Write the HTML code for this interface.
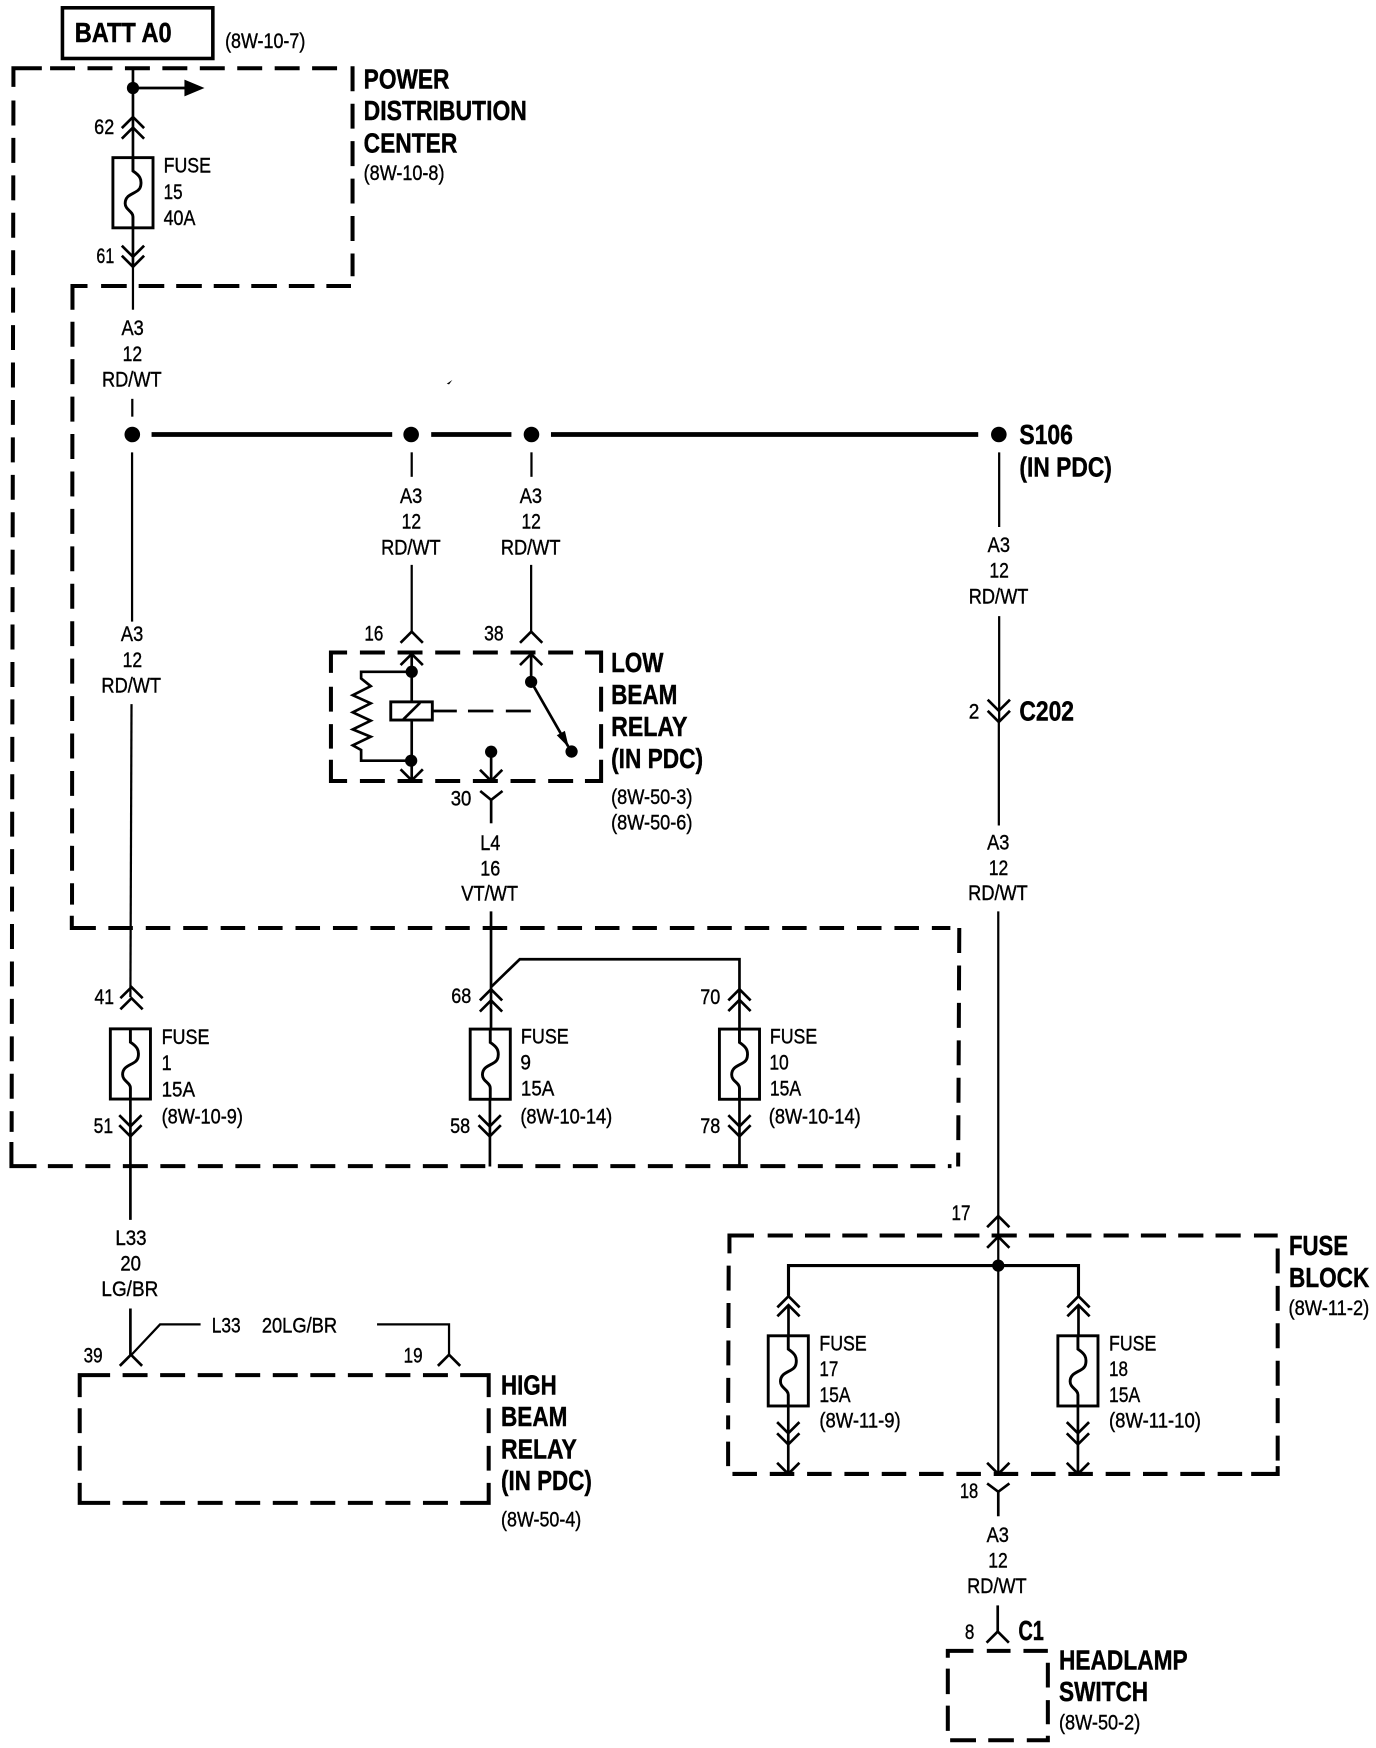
<!DOCTYPE html>
<html>
<head>
<meta charset="utf-8">
<style>
html,body{margin:0;padding:0;background:#fff;}
svg{display:block;}
text{font-family:"Liberation Sans",Arial,sans-serif;fill:#000;}
.r{font-size:19px;stroke:#000;stroke-width:.35px;}
.b{font-size:25px;font-weight:700;stroke:#000;stroke-width:.4px;}
.w{fill:none;stroke:#000;stroke-width:2;}
.t{fill:none;stroke:#000;stroke-width:2.4;}
.bus{fill:none;stroke:#000;stroke-width:4.2;}
.c{fill:none;stroke:#000;stroke-width:3.6;}
.d{fill:none;stroke:#000;stroke-width:3.6;stroke-dasharray:22.4 11.2;}
</style>
</head>
<body>
<svg xmlns="http://www.w3.org/2000/svg" width="1376" height="1748" viewBox="0 0 1235 1569">
<defs>
<path id="u" d="M-10 10L0 0L10 10" fill="none" stroke="#000" stroke-width="2.4"/>
<path id="v" d="M-10 -10L0 0L10 -10" fill="none" stroke="#000" stroke-width="2.4"/>
<g id="f">
<rect x="-18" y="0" width="36" height="63" fill="#fff" stroke="#000" stroke-width="2.6"/>
<path d="M0 0V12C6 16,8 19,7 25C6 33,-7 31,-7 41C-7 47,0 48,0 53V63" fill="none" stroke="#000" stroke-width="2.6"/>
</g>
</defs>

<!-- BATT box -->
<rect x="56" y="7" width="135" height="45.5" fill="none" stroke="#000" stroke-width="3.2"/>
<text class="b" x="67" y="37.5" textLength="87" lengthAdjust="spacingAndGlyphs">BATT A0</text>
<text class="r" x="202" y="43" textLength="72" lengthAdjust="spacingAndGlyphs">(8W-10-7)</text>

<!-- PDC dashed outline -->
<path class="c" d="M12 78V61.3H37.5"/>
<line class="d" x1="44.9" y1="61.3" x2="303" y2="61.3"/>
<line class="d" x1="316.4" y1="59.5" x2="316.4" y2="248"/>
<line class="d" x1="90.7" y1="256.7" x2="315" y2="256.7" style="stroke-dasharray:23 10.7"/>
<path class="c" d="M65 278V256.7H78.5"/>
<line class="d" x1="65" y1="288.8" x2="64.6" y2="812"/>
<path class="c" d="M64.4 822V833H86"/>
<line class="d" x1="97.2" y1="833" x2="853" y2="833" style="stroke-dasharray:22 11.6"/>
<line class="d" x1="861" y1="833" x2="860" y2="1047"/>
<line class="d" x1="42.9" y1="1046.7" x2="854" y2="1046.7" style="stroke-dasharray:22.4 11.26"/>
<path class="c" d="M32.7 1046.7H10.2V1025"/>
<line class="d" x1="12" y1="90.2" x2="10.4" y2="1016"/>

<!-- Top wire -->
<path class="t" d="M119.3 61V205"/>
<path class="t" d="M119.3 205V240"/>
<path class="w" d="M119.3 240V278"/>
<circle cx="119.3" cy="79" r="5.5"/>
<path class="t" d="M119 79H167"/>
<path d="M165.5 71.5L183.5 79L165.5 86.5Z"/>
<use href="#u" x="119.3" y="105"/>
<use href="#u" x="119.3" y="114.5"/>
<use href="#f" x="119.3" y="141.5"/>
<use href="#v" x="119.3" y="230.5"/>
<use href="#v" x="119.3" y="239.5"/>
<text class="r" x="84.5" y="120.5" textLength="18" lengthAdjust="spacingAndGlyphs">62</text>
<text class="r" x="86.5" y="236" textLength="16" lengthAdjust="spacingAndGlyphs">61</text>
<text class="r" x="146.8" y="155" textLength="42.5" lengthAdjust="spacingAndGlyphs">FUSE</text>
<text class="r" x="146.8" y="178.5" textLength="17" lengthAdjust="spacingAndGlyphs">15</text>
<text class="r" x="146.8" y="202" textLength="28.5" lengthAdjust="spacingAndGlyphs">40A</text>

<text class="b" x="326.4" y="79.3" textLength="77" lengthAdjust="spacingAndGlyphs">POWER</text>
<text class="b" x="326.4" y="107.7" textLength="146.5" lengthAdjust="spacingAndGlyphs">DISTRIBUTION</text>
<text class="b" x="326.4" y="137" textLength="84" lengthAdjust="spacingAndGlyphs">CENTER</text>
<text class="r" x="326.4" y="161.5" textLength="72.5" lengthAdjust="spacingAndGlyphs">(8W-10-8)</text>

<!-- A3 labels -->
<g class="wl">
<text class="r" x="109" y="300.7" textLength="20" lengthAdjust="spacingAndGlyphs">A3</text>
<text class="r" x="110" y="324" textLength="17.5" lengthAdjust="spacingAndGlyphs">12</text>
<text class="r" x="91.5" y="347" textLength="53.5" lengthAdjust="spacingAndGlyphs">RD/WT</text>

<text class="r" x="108.5" y="575.5" textLength="20" lengthAdjust="spacingAndGlyphs">A3</text>
<text class="r" x="110" y="598.5" textLength="17.5" lengthAdjust="spacingAndGlyphs">12</text>
<text class="r" x="91" y="621.5" textLength="53.5" lengthAdjust="spacingAndGlyphs">RD/WT</text>

<text class="r" x="359" y="451.5" textLength="20" lengthAdjust="spacingAndGlyphs">A3</text>
<text class="r" x="360.5" y="474.5" textLength="17.5" lengthAdjust="spacingAndGlyphs">12</text>
<text class="r" x="342" y="497.5" textLength="53.5" lengthAdjust="spacingAndGlyphs">RD/WT</text>

<text class="r" x="466.5" y="451.5" textLength="20" lengthAdjust="spacingAndGlyphs">A3</text>
<text class="r" x="468" y="474.5" textLength="17.5" lengthAdjust="spacingAndGlyphs">12</text>
<text class="r" x="449.5" y="497.5" textLength="53.5" lengthAdjust="spacingAndGlyphs">RD/WT</text>

<text class="r" x="886.5" y="495.5" textLength="20" lengthAdjust="spacingAndGlyphs">A3</text>
<text class="r" x="888" y="518.5" textLength="17.5" lengthAdjust="spacingAndGlyphs">12</text>
<text class="r" x="869.5" y="541.5" textLength="53.5" lengthAdjust="spacingAndGlyphs">RD/WT</text>

<text class="r" x="886" y="762.5" textLength="20" lengthAdjust="spacingAndGlyphs">A3</text>
<text class="r" x="887.5" y="785.5" textLength="17.5" lengthAdjust="spacingAndGlyphs">12</text>
<text class="r" x="869" y="808" textLength="53.5" lengthAdjust="spacingAndGlyphs">RD/WT</text>

<text class="r" x="885.5" y="1384" textLength="20" lengthAdjust="spacingAndGlyphs">A3</text>
<text class="r" x="887" y="1407" textLength="17.5" lengthAdjust="spacingAndGlyphs">12</text>
<text class="r" x="868" y="1430" textLength="53.5" lengthAdjust="spacingAndGlyphs">RD/WT</text>
</g>

<!-- Splice bus -->
<path class="w" d="M118.7 358V374"/>
<circle cx="118.7" cy="390" r="7"/>
<circle cx="369" cy="390" r="7"/>
<circle cx="477" cy="390" r="7"/>
<circle cx="896.5" cy="390" r="7"/>
<path class="bus" d="M136 390H352M387 390H459M494.5 390H878"/>
<path d="M401 344.5L406 341L403 345Z"/>
<text class="b" x="915" y="398.5" textLength="48" lengthAdjust="spacingAndGlyphs">S106</text>
<text class="b" x="915" y="427.5" textLength="83" lengthAdjust="spacingAndGlyphs">(IN PDC)</text>

<!-- Left vertical -->
<path class="w" d="M118.5 406V558"/>
<path class="w" d="M118 632L117 895"/>
<use href="#u" x="118" y="886"/>
<use href="#u" x="118" y="896"/>
<use href="#f" x="117" y="923.5"/>
<use href="#v" x="117" y="1011"/>
<use href="#v" x="117" y="1020"/>
<path class="t" d="M117 986V1095"/>
<text class="r" x="84.8" y="901" textLength="17.5" lengthAdjust="spacingAndGlyphs">41</text>
<text class="r" x="84" y="1017" textLength="17.5" lengthAdjust="spacingAndGlyphs">51</text>
<text class="r" x="145" y="937" textLength="43" lengthAdjust="spacingAndGlyphs">FUSE</text>
<text class="r" x="145" y="960.5" textLength="9" lengthAdjust="spacingAndGlyphs">1</text>
<text class="r" x="145" y="984" textLength="30" lengthAdjust="spacingAndGlyphs">15A</text>
<text class="r" x="145" y="1008.5" textLength="73" lengthAdjust="spacingAndGlyphs">(8W-10-9)</text>

<!-- L33 -->
<text class="r" x="103.5" y="1117.5" textLength="28" lengthAdjust="spacingAndGlyphs">L33</text>
<text class="r" x="108" y="1140.5" textLength="18.5" lengthAdjust="spacingAndGlyphs">20</text>
<text class="r" x="91" y="1163.5" textLength="51" lengthAdjust="spacingAndGlyphs">LG/BR</text>
<path class="t" d="M117 1174.5V1216"/>
<path class="w" d="M118 1216L143.6 1188.8H180"/>
<use href="#u" x="117.5" y="1216"/>
<path class="w" d="M338.4 1188.8H403V1216"/>
<use href="#u" x="403" y="1216"/>
<text class="r" x="190" y="1196" textLength="26" lengthAdjust="spacingAndGlyphs">L33</text>
<text class="r" x="235" y="1196" textLength="67.5" lengthAdjust="spacingAndGlyphs">20LG/BR</text>
<text class="r" x="75" y="1223" textLength="17" lengthAdjust="spacingAndGlyphs">39</text>
<text class="r" x="362.3" y="1223" textLength="17" lengthAdjust="spacingAndGlyphs">19</text>

<!-- High beam relay -->
<path class="c" d="M71.5 1254V1234.3H98.8"/>
<line class="d" x1="110" y1="1234.3" x2="402" y2="1234.3" style="stroke-dasharray:22.4 11.3"/>
<path class="c" d="M413 1234.3H438.6V1254"/>
<line class="d" x1="71.5" y1="1264" x2="71.5" y2="1320" style="stroke-dasharray:22.4 11.4"/>
<line class="d" x1="438.6" y1="1264" x2="438.6" y2="1320" style="stroke-dasharray:22.4 11.4"/>
<path class="c" d="M71.5 1331V1349H98.8"/>
<line class="d" x1="110" y1="1349" x2="402" y2="1349" style="stroke-dasharray:22.4 11.3"/>
<path class="c" d="M413 1349H438.6V1331"/>
<text class="b" x="449.7" y="1251.5" textLength="50" lengthAdjust="spacingAndGlyphs">HIGH</text>
<text class="b" x="449.7" y="1280" textLength="59.5" lengthAdjust="spacingAndGlyphs">BEAM</text>
<text class="b" x="449.7" y="1309" textLength="68" lengthAdjust="spacingAndGlyphs">RELAY</text>
<text class="b" x="449.7" y="1337.5" textLength="81.5" lengthAdjust="spacingAndGlyphs">(IN PDC)</text>
<text class="r" x="449.7" y="1370" textLength="72" lengthAdjust="spacingAndGlyphs">(8W-50-4)</text>

<!-- Low beam relay -->
<path class="w" d="M369.5 406V428"/>
<path class="w" d="M477 406V428"/>
<path class="w" d="M369.5 507V567"/>
<path class="w" d="M476.7 507V567"/>
<use href="#u" x="369.5" y="567"/>
<use href="#u" x="476.7" y="567"/>
<use href="#u" x="369.5" y="587"/>
<use href="#u" x="476.7" y="587"/>
<path class="c" d="M297 604V585.7H311.5"/>
<line class="d" x1="323" y1="585.7" x2="516" y2="585.7" style="stroke-dasharray:22.4 11.4"/>
<path class="c" d="M525 585.7H539.5V604"/>
<line class="d" x1="297" y1="616.4" x2="297" y2="672" style="stroke-dasharray:22.4 11.2"/>
<line class="d" x1="539.5" y1="616.4" x2="539.5" y2="672" style="stroke-dasharray:22.4 11.2"/>
<path class="c" d="M297 682V701H311.5"/>
<line class="d" x1="323" y1="701" x2="516" y2="701" style="stroke-dasharray:22.4 11.4"/>
<path class="c" d="M525 701H539.5V682"/>

<path class="t" d="M369.5 587V630M369.5 646V701"/>
<circle cx="369.5" cy="603" r="5.5"/>
<circle cx="369" cy="682.8" r="5.5"/>
<path class="t" d="M369.5 603H324.1V609L332.7 615.9L316.6 624L332.7 631.3L316.6 639.4L332.7 646.9L316.6 654.7L332.7 661.3L316.6 669L324.1 673.2V682.8H369"/>
<rect x="350.7" y="630" width="37.3" height="16.3" fill="#fff" stroke="#000" stroke-width="2.6"/>
<path class="t" d="M362 645.7L377 630.8"/>
<path class="t" d="M388 638.2H410M420 638.2H442.8M454 638.2H476.4"/>
<use href="#v" x="369.5" y="700.5"/>
<circle cx="476.7" cy="612" r="5.5"/>
<path class="t" d="M476.7 587V612L510 670"/>
<path d="M510.5 671L499.7 660L507 656Z"/>
<circle cx="513" cy="674.6" r="5.5"/>
<circle cx="440.8" cy="674.8" r="5.5"/>
<path class="t" d="M440.8 675V701"/>
<use href="#v" x="440.8" y="701"/>
<path class="t" d="M440.8 718V739"/>
<path d="M431 710L440.8 718L451 710" fill="none" stroke="#000" stroke-width="2.4"/>

<text class="r" x="327" y="575" textLength="17" lengthAdjust="spacingAndGlyphs">16</text>
<text class="r" x="434.5" y="575" textLength="17.5" lengthAdjust="spacingAndGlyphs">38</text>
<text class="r" x="404.5" y="723" textLength="18.5" lengthAdjust="spacingAndGlyphs">30</text>
<text class="b" x="548.5" y="603" textLength="47" lengthAdjust="spacingAndGlyphs">LOW</text>
<text class="b" x="548.5" y="632" textLength="59.5" lengthAdjust="spacingAndGlyphs">BEAM</text>
<text class="b" x="548.5" y="660.5" textLength="68.5" lengthAdjust="spacingAndGlyphs">RELAY</text>
<text class="b" x="548.5" y="689.5" textLength="82.5" lengthAdjust="spacingAndGlyphs">(IN PDC)</text>
<text class="r" x="548.5" y="721.5" textLength="73" lengthAdjust="spacingAndGlyphs">(8W-50-3)</text>
<text class="r" x="548.5" y="744.5" textLength="73" lengthAdjust="spacingAndGlyphs">(8W-50-6)</text>

<text class="r" x="431" y="763" textLength="18" lengthAdjust="spacingAndGlyphs">L4</text>
<text class="r" x="431" y="786" textLength="18" lengthAdjust="spacingAndGlyphs">16</text>
<text class="r" x="414" y="808.5" textLength="51" lengthAdjust="spacingAndGlyphs">VT/WT</text>

<!-- Fuses 9 / 10 -->
<path class="t" d="M440.7 818V923"/>
<path class="t" d="M440.7 886L466.5 861H663.7V923"/>
<use href="#u" x="440.7" y="888"/>
<use href="#u" x="440.7" y="898"/>
<use href="#f" x="440" y="923.7"/>
<use href="#v" x="439.5" y="1011"/>
<use href="#v" x="439.5" y="1020"/>
<path class="t" d="M439.7 986V1047"/>
<text class="r" x="405" y="900.5" textLength="18" lengthAdjust="spacingAndGlyphs">68</text>
<text class="r" x="404" y="1017" textLength="18" lengthAdjust="spacingAndGlyphs">58</text>
<text class="r" x="467.5" y="936.5" textLength="43" lengthAdjust="spacingAndGlyphs">FUSE</text>
<text class="r" x="467" y="960" textLength="9.5" lengthAdjust="spacingAndGlyphs">9</text>
<text class="r" x="467.5" y="983.5" textLength="30" lengthAdjust="spacingAndGlyphs">15A</text>
<text class="r" x="467" y="1008.5" textLength="82.5" lengthAdjust="spacingAndGlyphs">(8W-10-14)</text>

<use href="#u" x="663.7" y="888"/>
<use href="#u" x="663.7" y="897.5"/>
<use href="#f" x="663.7" y="923.7"/>
<use href="#v" x="663.7" y="1011"/>
<use href="#v" x="663.7" y="1020"/>
<path class="t" d="M663.7 986V1047"/>
<text class="r" x="628.5" y="901" textLength="18" lengthAdjust="spacingAndGlyphs">70</text>
<text class="r" x="628.5" y="1017" textLength="18" lengthAdjust="spacingAndGlyphs">78</text>
<text class="r" x="691" y="936.5" textLength="42.5" lengthAdjust="spacingAndGlyphs">FUSE</text>
<text class="r" x="690.5" y="960" textLength="17.5" lengthAdjust="spacingAndGlyphs">10</text>
<text class="r" x="691" y="983.5" textLength="28" lengthAdjust="spacingAndGlyphs">15A</text>
<text class="r" x="690" y="1008.5" textLength="82.5" lengthAdjust="spacingAndGlyphs">(8W-10-14)</text>

<!-- Right vertical -->
<path class="w" d="M896.8 406V473"/>
<path class="w" d="M896.8 553V647"/>
<use href="#v" x="896.5" y="638"/>
<use href="#v" x="896.5" y="648"/>
<path class="w" d="M896.5 648V741"/>
<path class="w" d="M896 818V1323"/>
<text class="r" x="869.5" y="645" textLength="9.5" lengthAdjust="spacingAndGlyphs">2</text>
<text class="b" x="915" y="646.5" textLength="49" lengthAdjust="spacingAndGlyphs">C202</text>

<!-- Fuse block -->
<use href="#u" x="896" y="1091.5"/>
<use href="#u" x="896" y="1110"/>
<text class="r" x="854" y="1095" textLength="17" lengthAdjust="spacingAndGlyphs">17</text>
<path class="c" d="M654.7 1125V1109H676.7"/>
<line class="d" x1="689" y1="1109" x2="1115" y2="1109" style="stroke-dasharray:22.6 10.9"/>
<line class="c" x1="1125.5" y1="1109" x2="1146.8" y2="1109"/>
<line class="d" x1="1146.8" y1="1120.6" x2="1146.8" y2="1311" style="stroke-dasharray:22.4 11.2"/>
<path class="c" d="M1123 1323H1146.8V1316"/>
<line class="d" x1="654" y1="1136" x2="653.5" y2="1283" style="stroke-dasharray:22.4 11.2"/>
<line class="c" x1="653.5" y1="1294" x2="653.5" y2="1316"/>
<line class="d" x1="657.4" y1="1323" x2="1115" y2="1323" style="stroke-dasharray:22 11.5"/>
<path class="bus" d="M707.7 1163V1136H968V1163" style="stroke-width:2.8"/>
<circle cx="896" cy="1136" r="5.5"/>
<use href="#u" x="707.7" y="1163.5"/>
<use href="#u" x="707.7" y="1171.5"/>
<use href="#f" x="707.5" y="1199"/>
<use href="#v" x="707.5" y="1286.5"/>
<use href="#v" x="707.5" y="1296.5"/>
<path class="t" d="M707.7 1172V1199M707.5 1262V1323"/>
<use href="#v" x="707.5" y="1323"/>
<use href="#u" x="968" y="1163.5"/>
<use href="#u" x="968" y="1171.5"/>
<use href="#f" x="967.5" y="1199"/>
<use href="#v" x="967.5" y="1286.5"/>
<use href="#v" x="967.5" y="1296.5"/>
<path class="t" d="M968 1172V1199M967.5 1262V1323"/>
<use href="#v" x="967.5" y="1323"/>
<use href="#v" x="896" y="1323"/>
<path d="M886 1331.5L896 1339L906 1331.5" fill="none" stroke="#000" stroke-width="2.4"/>
<path class="t" d="M896 1339V1361"/>
<text class="r" x="861.5" y="1344.5" textLength="16.5" lengthAdjust="spacingAndGlyphs">18</text>

<text class="r" x="735.4" y="1212" textLength="42.5" lengthAdjust="spacingAndGlyphs">FUSE</text>
<text class="r" x="735.4" y="1235" textLength="17" lengthAdjust="spacingAndGlyphs">17</text>
<text class="r" x="735.4" y="1258.5" textLength="28" lengthAdjust="spacingAndGlyphs">15A</text>
<text class="r" x="735.4" y="1281.5" textLength="73" lengthAdjust="spacingAndGlyphs">(8W-11-9)</text>
<text class="r" x="995.4" y="1212" textLength="42.5" lengthAdjust="spacingAndGlyphs">FUSE</text>
<text class="r" x="995.4" y="1235" textLength="17" lengthAdjust="spacingAndGlyphs">18</text>
<text class="r" x="995.4" y="1258.5" textLength="28" lengthAdjust="spacingAndGlyphs">15A</text>
<text class="r" x="995.4" y="1281.5" textLength="82.5" lengthAdjust="spacingAndGlyphs">(8W-11-10)</text>
<text class="b" x="1157" y="1126.5" textLength="53" lengthAdjust="spacingAndGlyphs">FUSE</text>
<text class="b" x="1157" y="1155" textLength="72" lengthAdjust="spacingAndGlyphs">BLOCK</text>
<text class="r" x="1156.5" y="1180.5" textLength="72.5" lengthAdjust="spacingAndGlyphs">(8W-11-2)</text>

<!-- Headlamp switch -->
<path class="t" d="M895.5 1441V1464.7"/>
<use href="#u" x="895.5" y="1464.5"/>
<text class="r" x="866" y="1471" textLength="8.5" lengthAdjust="spacingAndGlyphs">8</text>
<text class="b" x="914" y="1472" textLength="23" lengthAdjust="spacingAndGlyphs">C1</text>
<path class="c" d="M850.7 1488V1481.8H873.7M885.7 1481.8H907M918.6 1481.8H940.5"/>
<path class="c" d="M850.7 1497.7V1520.6M850.7 1531V1553.6"/>
<path class="c" d="M940.5 1492.5V1514.7M940.5 1526V1547.7"/>
<path class="c" d="M852.8 1562H876M887 1562H910M921.6 1562H940.5V1558"/>
<text class="b" x="950.5" y="1498.5" textLength="115.5" lengthAdjust="spacingAndGlyphs">HEADLAMP</text>
<text class="b" x="950.5" y="1527" textLength="80" lengthAdjust="spacingAndGlyphs">SWITCH</text>
<text class="r" x="950.5" y="1552.5" textLength="73" lengthAdjust="spacingAndGlyphs">(8W-50-2)</text>
</svg>
</body>
</html>
